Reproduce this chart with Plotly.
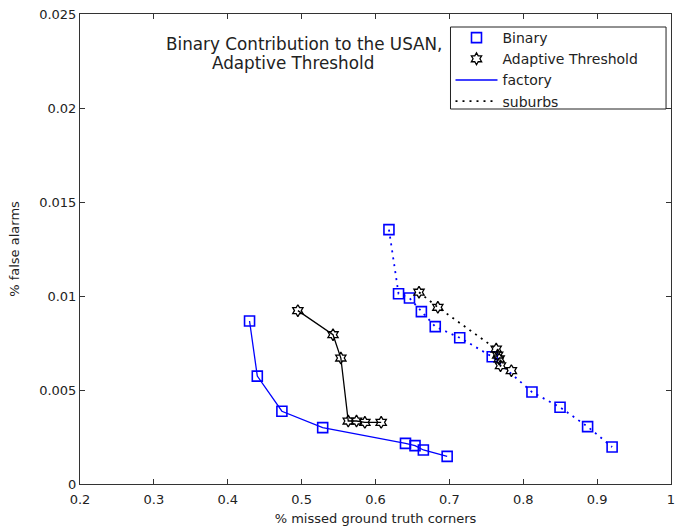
import plotly.graph_objects as go

# Binary, factory
bin_fac_x = [0.4295, 0.4400, 0.4733, 0.5285, 0.6406, 0.6535, 0.6648, 0.6970]
bin_fac_y = [0.00867, 0.00574, 0.00387, 0.00300, 0.00216, 0.00204, 0.00181, 0.00147]
# Adaptive threshold, factory
ada_fac_x = [0.4949, 0.5425, 0.5531, 0.5631, 0.5743, 0.5856, 0.6077]
ada_fac_y = [0.00922, 0.00794, 0.00670, 0.00335, 0.00335, 0.00328, 0.00328]
# Binary, suburbs
bin_sub_x = [0.6182, 0.6312, 0.6460, 0.6621, 0.6809, 0.7140, 0.7580, 0.8118, 0.8498, 0.8871, 0.9203]
bin_sub_y = [0.01353, 0.01012, 0.00989, 0.00917, 0.00837, 0.00778, 0.00677, 0.00489, 0.00408, 0.00305, 0.00197]
# Adaptive threshold, suburbs
ada_sub_x = [0.6589, 0.6844, 0.7634, 0.7654, 0.7674, 0.7692, 0.7839]
ada_sub_y = [0.01020, 0.00940, 0.00718, 0.00686, 0.00665, 0.00629, 0.00603]

x_ticks = [0.2, 0.3, 0.4, 0.5, 0.6, 0.7, 0.8, 0.9, 1.0]
x_tick_labels = ["0.2", "0.3", "0.4", "0.5", "0.6", "0.7", "0.8", "0.9", "1"]
y_ticks = [0, 0.005, 0.01, 0.015, 0.02, 0.025]
y_tick_labels = ["0", "0.005", "0.01", "0.015", "0.02", "0.025"]

BLUE = "#0000ff"
FONT = "DejaVu Sans, Verdana, sans-serif"
TXT = "#222222"

fig = go.Figure()

sq = dict(symbol="square-open", size=10, color=BLUE, line=dict(width=1.6, color=BLUE))
st = dict(symbol="hexagram-open", size=9, color="black", line=dict(width=1.3, color="black"))
DOT = "2px,5px"

fig.add_trace(go.Scatter(x=bin_fac_x, y=bin_fac_y, mode="lines+markers",
                         line=dict(color=BLUE, width=1.3), marker=sq, showlegend=False))
fig.add_trace(go.Scatter(x=ada_fac_x, y=ada_fac_y, mode="lines+markers",
                         line=dict(color="black", width=1.3), marker=st, showlegend=False))
fig.add_trace(go.Scatter(x=bin_sub_x, y=bin_sub_y, mode="lines+markers",
                         line=dict(color=BLUE, width=1.8, dash=DOT), marker=sq, showlegend=False))
fig.add_trace(go.Scatter(x=ada_sub_x, y=ada_sub_y, mode="lines+markers",
                         line=dict(color="black", width=1.8, dash=DOT), marker=st, showlegend=False))

# legend-only entries
fig.add_trace(go.Scatter(x=[None], y=[None], mode="markers", marker=sq, name="Binary"))
fig.add_trace(go.Scatter(x=[None], y=[None], mode="markers", marker=st, name="Adaptive Threshold"))
fig.add_trace(go.Scatter(x=[None], y=[None], mode="lines", line=dict(color=BLUE, width=1.5), name="factory"))
fig.add_trace(go.Scatter(x=[None], y=[None], mode="lines", line=dict(color="black", width=1.8, dash=DOT), name="suburbs"))

axis_common = dict(showgrid=False, zeroline=False, showline=True, linecolor="#333333", linewidth=1,
                   mirror="ticks", ticks="inside", ticklen=5, tickcolor="#333333",
                   tickfont=dict(family=FONT, size=13, color=TXT))

fig.update_xaxes(range=[0.2, 1.0], tickvals=x_ticks, ticktext=x_tick_labels, ticklabelstandoff=3,
                 title=dict(text="% missed ground truth corners", font=dict(family=FONT, size=13, color=TXT),
                            standoff=8), **axis_common)
fig.update_yaxes(range=[0, 0.025], tickvals=y_ticks, ticktext=y_tick_labels,
                 title=dict(text="% false alarms", font=dict(family=FONT, size=13, color=TXT),
                            standoff=16), **axis_common)

fig.add_annotation(text="Binary Contribution to the USAN,", xref="paper", yref="paper",
                   x=(306 - 80) / 595, y=(484 - 44) / 470, xanchor="center", yanchor="middle",
                   showarrow=False, font=dict(family=FONT, size=16.8, color=TXT))
fig.add_annotation(text="Adaptive Threshold", xref="paper", yref="paper",
                   x=(211 - 80) / 595, y=(484 - 63) / 470, xanchor="left", yanchor="middle",
                   showarrow=False, font=dict(family=FONT, size=16.8, color=TXT))

# legend frame (matches the wider box of the original)
fig.add_shape(type="rect", xref="paper", yref="paper", layer="above",
              x0=(453 - 80) / 595, x1=(670 - 80) / 595, y0=(484 - 109) / 470, y1=(484 - 27) / 470,
              line=dict(color=TXT, width=1), fillcolor="white")

fig.update_layout(
    width=680, height=529,
    margin=dict(l=80, r=5, t=14, b=45),
    paper_bgcolor="white", plot_bgcolor="white",
    font=dict(family=FONT, color=TXT),
    legend=dict(x=(453 - 80) / 595, y=(484 - 22) / 470, xanchor="left", yanchor="top",
                bgcolor="rgba(0,0,0,0)", borderwidth=0,
                font=dict(family=FONT, size=14, color=TXT),
                itemwidth=42, tracegroupgap=0),
)

fig.write_html("out.html")
